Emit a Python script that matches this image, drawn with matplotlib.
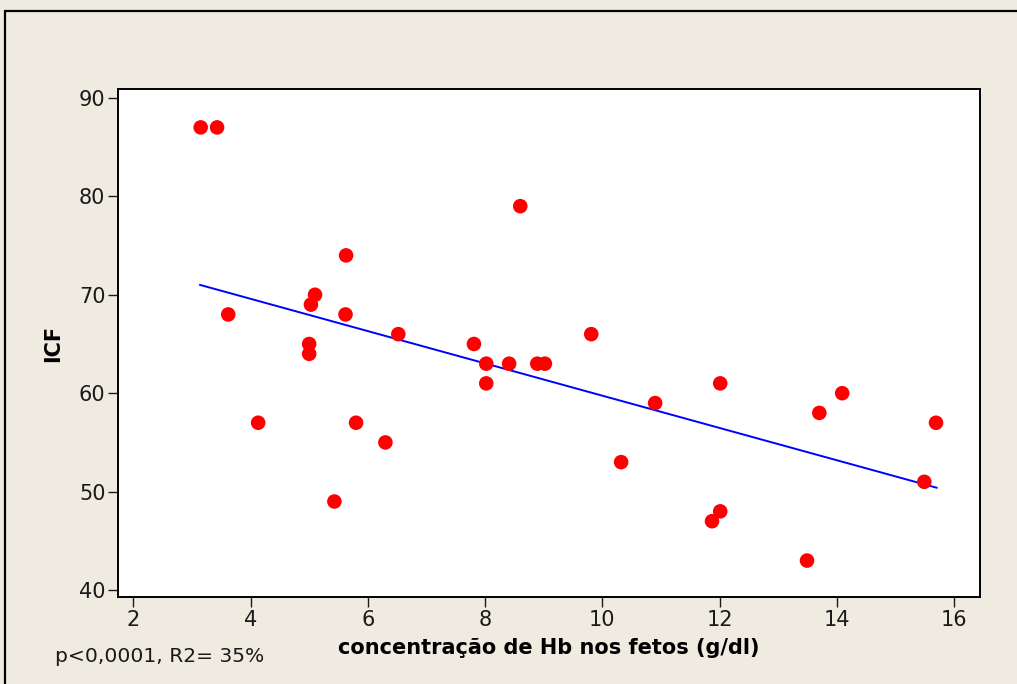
import matplotlib.pyplot as plt
from matplotlib.patches import Rectangle

# dados
hb = [3.15, 3.43, 3.62, 4.13, 5.0, 5.0, 5.03, 5.10, 5.43, 5.62, 5.63, 5.80,
      6.30, 6.52, 7.81, 8.02, 8.02, 8.41, 8.60, 8.89, 9.02, 9.81, 10.32,
      10.90, 11.87, 12.01, 12.01, 13.49, 13.70, 14.09, 15.49, 15.69]
icf = [87, 87, 68, 57, 65, 64, 69, 70, 49, 68, 74, 57,
       55, 66, 65, 63, 61, 63, 79, 63, 63, 66, 53,
       59, 47, 61, 48, 43, 58, 60, 51, 57]
fit_x = [3.14, 15.70]
fit_y = [71.0, 50.4]
x_ticks = [2, 4, 6, 8, 10, 12, 14, 16]
y_ticks = [40, 50, 60, 70, 80, 90]

bg = '#efebe1'
fig = plt.figure(figsize=(10.17, 6.84), dpi=100, facecolor=bg)
fig.patches.append(Rectangle((5 / 1017, -0.1), 1.1, 1 - 11 / 684 + 0.1,
                             transform=fig.transFigure, fill=False,
                             edgecolor='black', linewidth=1.6))

ax = fig.add_axes([118 / 1017, 1 - 597 / 684, 862 / 1017, 508 / 684])
ax.set_facecolor('white')
ax.plot(fit_x, fit_y, color='#0000ff', linewidth=1.4, zorder=2)
ax.scatter(hb, icf, s=110, color='#ff0000', edgecolors='none', zorder=3)

ax.set_xlim(1.74, 16.44)
ax.set_ylim(39.3, 90.9)
ax.set_xticks(x_ticks)
ax.set_yticks(y_ticks)
ax.tick_params(direction='out', length=7, width=1, labelsize=15, pad=2,
               colors='#1a1a1a')
for s in ax.spines.values():
    s.set_linewidth(1.4)

ax.set_ylabel('ICF', fontsize=15, fontweight='bold', labelpad=11)
ax.set_xlabel('concentração de Hb nos fetos (g/dl)', fontsize=15,
              fontweight='bold', labelpad=6)
fig.text(55 / 1017, 1 - 657 / 684, 'p<0,0001, R2= 35%', fontsize=14.6,
         va='center', ha='left', color='#1a1a1a')

fig.savefig('out.png', dpi=100, facecolor=bg)
